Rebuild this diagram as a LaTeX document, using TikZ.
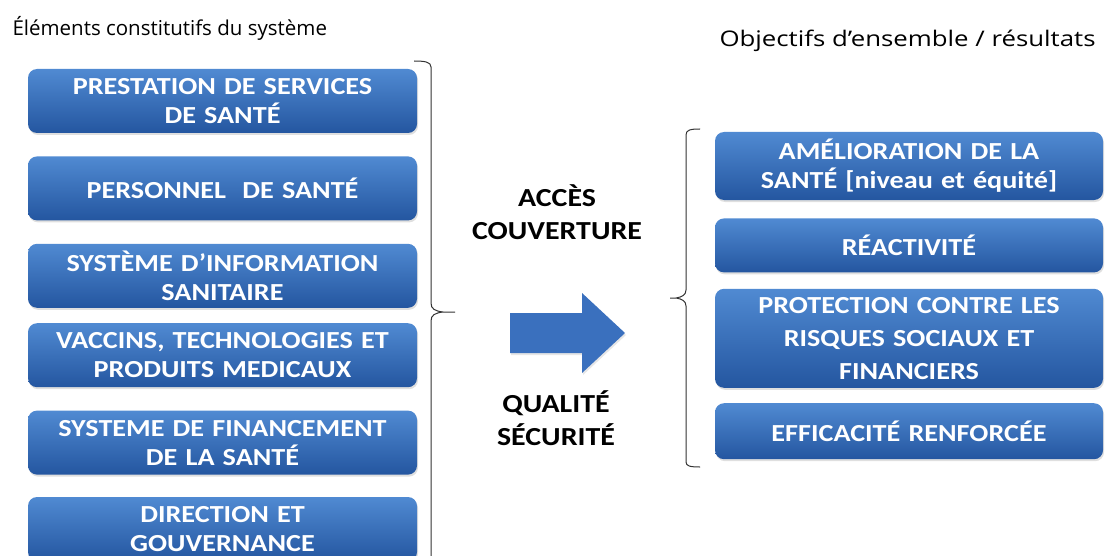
\documentclass[tikz,border=0pt]{standalone}
\usepackage{fontspec}
\setmainfont{Carlito}[FakeStretch=1.15]
\newfontfamily\titlefont{Open Sans}[FakeStretch=1.2]
\newfontfamily\lefttitlefont{Open Sans}
\usetikzlibrary{positioning, shadows}

\definecolor{boxtop}{RGB}{80,138,210}
\definecolor{boxbot}{RGB}{36,86,160}
\definecolor{arrowblue}{RGB}{58,112,190}

\begin{document}
\begin{tikzpicture}[x=1pt, y=-1pt,
    item/.style={rounded corners=9pt, top color=boxtop, bottom color=boxbot,
      drop shadow={shadow xshift=1pt, shadow yshift=-2pt, opacity=0.25},
      text=white, align=center, font=\bfseries\fontsize{24.5}{29}\selectfont,
      minimum height=64pt, inner sep=1pt},
    lbox/.style={item, text width=387pt},
    rbox/.style={item, text width=386pt},
    title/.style={anchor=west, font=\titlefont\fontsize{21.5}{26}\selectfont},
    mid/.style={align=center, font=\bfseries\fontsize{26}{33}\selectfont}]
  \useasboundingbox (0,0) rectangle (1107,556);

  \node[title, font=\lefttitlefont\fontsize{20.5}{25}\selectfont] (t_left) at (9,28) {Éléments constitutifs du système};
  \node[title] (t_right) at (716,41) {Objectifs d’ensemble / résultats};

  % building blocks
  \node[lbox] (b_1) at (222.5,101) {PRESTATION DE SERVICES\\DE SANTÉ};
  \node[lbox] (b_2) [below=23pt of b_1] {PERSONNEL~~DE SANTÉ};
  \node[lbox] (b_3) [below=23pt of b_2] {SYSTÈME D’INFORMATION\\SANITAIRE};
  \node[lbox] (b_4) [below=15pt of b_3] {VACCINS, TECHNOLOGIES ET\\PRODUITS MEDICAUX};
  \node[lbox] (b_5) [below=23pt of b_4] {SYSTEME DE FINANCEMENT\\DE LA SANTÉ};
  \node[lbox] (b_6) [below=22pt of b_5] {DIRECTION ET\\GOUVERNANCE};

  % goals
  \node[rbox, minimum height=68pt] (g_1) at (909,166) {AMÉLIORATION DE LA\\SANTÉ [niveau et équité]};
  \node[rbox, minimum height=54pt] (g_2) [below=18pt of g_1] {RÉACTIVITÉ};
  \node[rbox, minimum height=99pt, font=\bfseries\fontsize{24.5}{33}\selectfont] (g_3) [below=16pt of g_2]
    {PROTECTION CONTRE LES\\RISQUES SOCIAUX ET\\FINANCIERS};
  \node[rbox, minimum height=56pt] (g_4) [below=15pt of g_3] {EFFICACITÉ RENFORCÉE};

  \node[mid] (access) at (557,212) {ACCÈS\\COUVERTURE};
  \node[mid] (quality) at (556,418) {QUALITÉ\\SÉCURITÉ};

  % big arrow
  \fill[arrowblue, drop shadow={shadow xshift=1pt, shadow yshift=-2pt, opacity=0.2}]
    (510,313) -- (582,313) -- (582,293) -- (625,333) -- (582,373) -- (582,353) -- (510,353) -- cycle;

  % braces
  \draw[line width=1pt, black!80]
    (414,61) .. controls (425,61) and (431,62) .. (431,67) -- (431,303)
    .. controls (431,309) and (435,311) .. (443,312) -- (455,312)
    -- (443,312) .. controls (435,313) and (431,315) .. (431,321) -- (431,556);
  \draw[line width=1pt, black!80]
    (700,129) .. controls (690,129) and (686,130) .. (686,135) -- (686,290)
    .. controls (686,295) and (682,297) .. (676,298) -- (670,298)
    -- (676,298) .. controls (682,299) and (686,301) .. (686,306) -- (686,462)
    .. controls (686,466) and (690,467) .. (700,467);
\end{tikzpicture}
\end{document}
